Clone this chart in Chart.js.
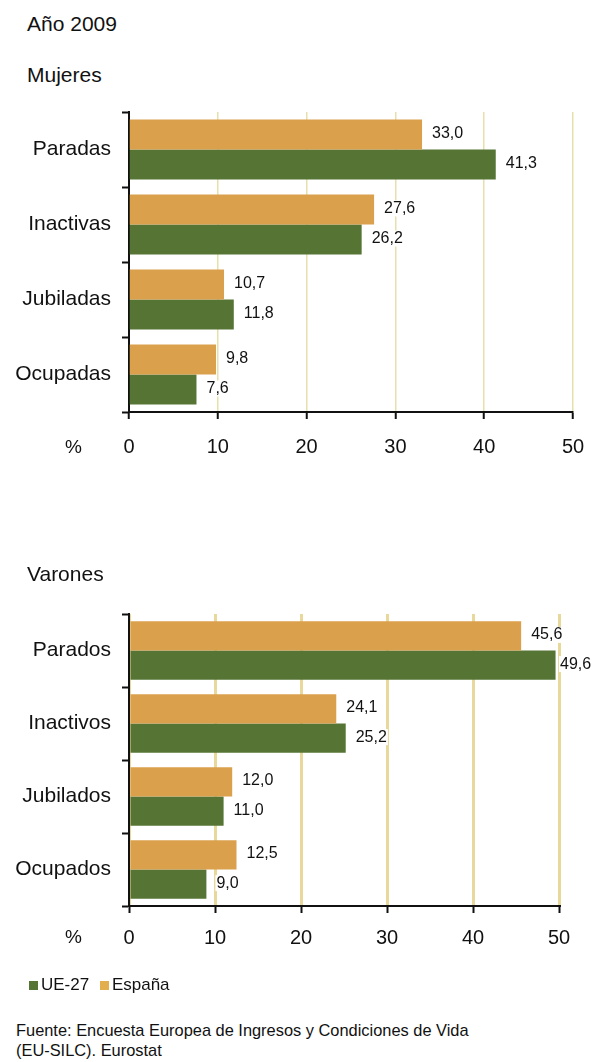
<!DOCTYPE html>
<html>
<head>
<meta charset="utf-8">
<script src="https://cdn.jsdelivr.net/npm/chart.js@4/dist/chart.umd.min.js"></script>
<style>
  body { margin: 0; background: #fff; font-family: "Liberation Sans", Arial, sans-serif; color: #111; }
  #page { position: relative; width: 594px; height: 1062px; overflow: hidden; }
  .txt { position: absolute; white-space: nowrap; line-height: 24px; }
  .box { position: absolute; }
  .sq { display: inline-block; width: 9px; height: 9px; margin-right: 3px; vertical-align: 0px; }
</style>
</head>
<body>
<div id="page">
  <div class="txt" style="left:27px;top:12px;font-size:21px;">Año 2009</div>
  <div class="txt" style="left:27px;top:63px;font-size:21px;">Mujeres</div>
  <div class="box" style="left:0;top:100px;width:594px;height:360px;"><canvas id="chart-mujeres"></canvas></div>
  <div class="txt" style="left:65px;top:435px;font-size:19px;">%</div>

  <div class="txt" style="left:27px;top:562px;font-size:21px;">Varones</div>
  <div class="box" style="left:0;top:597px;width:594px;height:360px;"><canvas id="chart-varones"></canvas></div>
  <div class="txt" style="left:65px;top:925px;font-size:19px;">%</div>

  <div class="txt" style="left:29px;top:973px;font-size:17px;">
    <span class="sq" style="background:#567534"></span>UE-27
    <span class="sq" style="background:#e2ae4e;margin-left:6px"></span>España
  </div>
  <div class="txt" style="left:16px;top:1020px;font-size:16.4px;line-height:20px;">Fuente: Encuesta Europea de Ingresos y Condiciones de Vida<br>(EU-SILC). Eurostat</div>
</div>
<script>
// --- data ---
const catMujeres = ['Paradas', 'Inactivas', 'Jubiladas', 'Ocupadas'];
const espanaMujeres = [33.0, 27.6, 10.7, 9.8];
const ue27Mujeres = [41.3, 26.2, 11.8, 7.6];

const catVarones = ['Parados', 'Inactivos', 'Jubilados', 'Ocupados'];
const espanaVarones = [45.6, 24.1, 12.0, 12.5];
const ue27Varones = [49.6, 25.2, 11.0, 9.0];

const xTicks = [0, 10, 20, 30, 40, 50];

const ORANGE = '#dba04c';
const GREEN = '#567534';
const FONT = '"Liberation Sans", Arial, sans-serif';

// value labels at the end of each bar, comma decimal, kept inside the plot
const valueLabels = {
    id: 'valueLabels',
    afterDatasetsDraw(chart) {
        const ctx = chart.ctx;
        ctx.save();
        ctx.font = '16px ' + FONT;
        ctx.textBaseline = 'middle';
        ctx.textAlign = 'left';
        chart.data.datasets.forEach((ds, i) => {
            chart.getDatasetMeta(i).data.forEach((bar, j) => {
                const txt = ds.data[j].toFixed(1).replace('.', ',');
                const x = Math.min(bar.x + 10, chart.chartArea.right + 1);
                const y = bar.y - 1;
                const w = ctx.measureText(txt).width;
                ctx.fillStyle = '#fff';
                ctx.fillRect(x - 1, y - 8, w + 2, 16);
                ctx.fillStyle = '#111';
                ctx.fillText(txt, x, y);
            });
        });
        ctx.restore();
    }
};

function makeChart(id, cats, espana, ue27, opts) {
    const ctx = document.getElementById(id).getContext('2d');
    return new Chart(ctx, {
        type: 'bar',
        data: {
            labels: cats,
            datasets: [
                { label: 'España', data: espana, backgroundColor: ORANGE, categoryPercentage: 0.8, barPercentage: 1.0 },
                { label: 'UE-27', data: ue27, backgroundColor: GREEN, categoryPercentage: 0.8, barPercentage: 1.0 }
            ]
        },
        options: {
            indexAxis: 'y',
            responsive: true,
            maintainAspectRatio: false,
            animation: false,
            layout: { padding: { left: 0, right: opts.padRight, top: opts.padTop, bottom: 0 } },
            plugins: { legend: { display: false }, tooltip: { enabled: false } },
            scales: {
                x: {
                    min: 0, max: 50,
                    afterBuildTicks: s => { s.ticks = xTicks.map(v => ({ value: v })); },
                    afterFit: s => { s.height = opts.xHeight; s.paddingLeft = 0; s.paddingRight = 0; },
                    border: { color: '#111', width: 2 },
                    grid: { color: opts.gridColor, lineWidth: opts.gridWidth, tickColor: '#111', tickLength: 7, tickWidth: 2 },
                    ticks: { color: '#111', padding: opts.xPad, font: { size: 20, family: FONT } }
                },
                y: {
                    afterFit: s => { s.width = 129; s.paddingTop = 0; s.paddingBottom = 0; },
                    border: { color: '#111', width: 2 },
                    grid: { drawOnChartArea: false, tickColor: '#111', tickLength: 7, tickWidth: 2, offset: true },
                    ticks: { color: '#111', padding: 11, font: { size: 21, family: FONT } }
                }
            }
        },
        plugins: [valueLabels]
    });
}

makeChart('chart-mujeres', catMujeres, espanaMujeres, ue27Mujeres,
    { padRight: 21, padTop: 12, xHeight: 48, xPad: 16, gridColor: '#e6e0ac', gridWidth: 1.5 });
makeChart('chart-varones', catVarones, espanaVarones, ue27Varones,
    { padRight: 35, padTop: 17, xHeight: 51, xPad: 13, gridColor: '#e8d89c', gridWidth: 3 });
</script>
</body>
</html>
